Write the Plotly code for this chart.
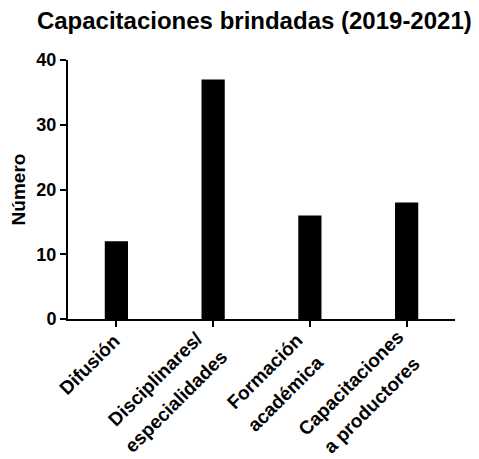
import plotly.graph_objects as go

categories = ["Difusión", "Disciplinares/<br>especialidades", "Formación<br>académica", "Capacitaciones<br>a productores"]
values = [12, 37, 16, 18]
y_ticks = [0, 10, 20, 30, 40]

font_family = "Liberation Sans, Arial, sans-serif"

# pixel offsets (from tick, below axis) of each rotated label block centre
label_centers = [(-27, 45), (-48, 71), (-35, 63), (-46, 75)]
line_step = (10.5, 11)

fig = go.Figure(go.Bar(
    x=list(range(len(categories))), y=values,
    marker=dict(color="black", line=dict(width=0)),
    width=0.24,
))

annotations = []
for i, (cat, (cx, cy)) in enumerate(zip(categories, label_centers)):
    lines = cat.split("<br>")
    n = len(lines)
    for k, line in enumerate(lines):
        f = k - (n - 1) / 2
        annotations.append(dict(
            x=i, xref="x", y=0, yref="paper",
            text="<b>%s</b>" % line, showarrow=False, textangle=-45,
            xanchor="center", yanchor="middle",
            xshift=cx + f * 2 * line_step[0], yshift=-(cy + f * 2 * line_step[1]),
            font=dict(family=font_family, size=19, color="black"),
        ))

fig.update_layout(
    width=471, height=451,
    margin=dict(l=60, r=24, t=52, b=140, autoexpand=False),
    plot_bgcolor="white", paper_bgcolor="white",
    showlegend=False,
    title=dict(text="<b>Capacitaciones brindadas (2019-2021)</b>",
               x=0.523, xref="container", xanchor="center",
               y=0.971, yref="container", yanchor="middle",
               font=dict(family=font_family, size=24, color="black")),
    font=dict(family=font_family, color="black"),
    annotations=annotations,
)

fig.update_xaxes(
    range=[-0.5, 3.5], automargin=False,
    tickmode="array", tickvals=list(range(len(categories))),
    showticklabels=False,
    ticks="outside", ticklen=6, tickwidth=2, tickcolor="black",
    showline=True, linewidth=2, linecolor="black",
    showgrid=False, zeroline=False,
)

fig.update_yaxes(
    range=[0, 40], automargin=False,
    tickmode="array", tickvals=y_ticks,
    ticktext=["<b>%d</b>" % t for t in y_ticks],
    ticks="outside", ticklen=6, tickwidth=2, tickcolor="black",
    showline=True, linewidth=2, linecolor="black",
    showgrid=False, zeroline=False,
    tickfont=dict(family=font_family, size=18, color="black"),
    title=dict(text="<b>Número</b>", font=dict(family=font_family, size=19, color="black"), standoff=8),
)

fig.write_html("out.html")
